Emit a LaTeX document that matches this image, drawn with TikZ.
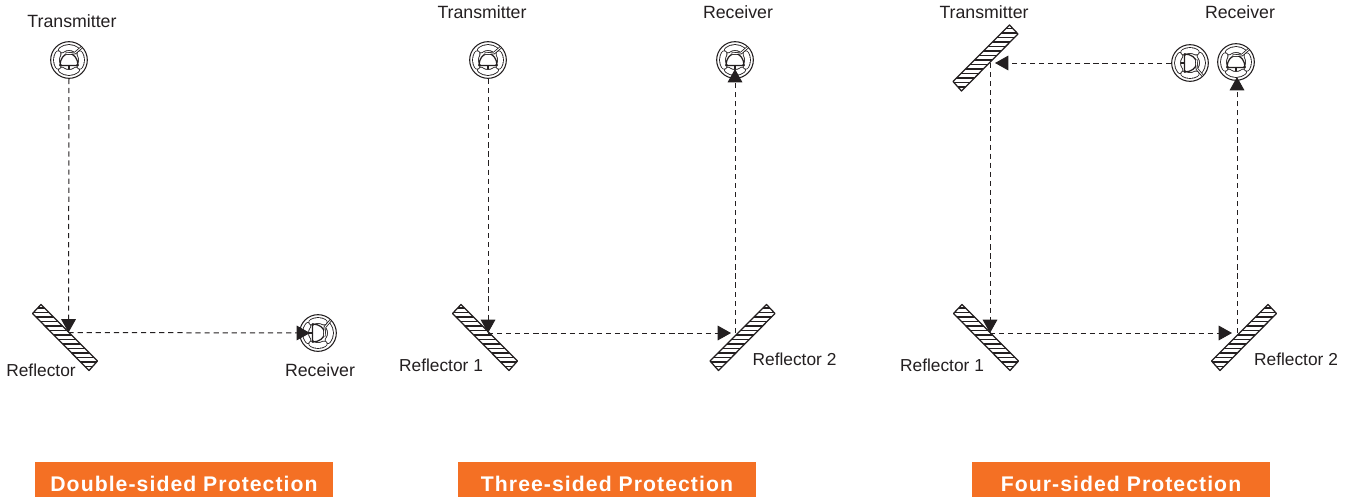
\documentclass[tikz,border=0pt]{standalone}
\usepackage{fontspec}
\setmainfont{Liberation Sans}
\usetikzlibrary{arrows.meta}
\definecolor{bannerorange}{HTML}{F47024}
\definecolor{inkc}{HTML}{231F20}
\tikzset{
  x=0.75pt,y=-0.75pt,
  beam/.style={draw=inkc,line width=0.75pt,dash pattern=on 3.9pt off 2.9pt},
  beamarrow/.style={beam,-{Triangle[length=10pt,width=11pt,color=inkc]}},
  sensorbody/.style={circle,draw=inkc,line width=0.8pt,minimum size=27.5pt,inner sep=0pt},
  lbl/.style={text=inkc,font=\fontsize{13.3}{15}\selectfont,inner sep=0pt},
  rlbl/.style={text=inkc,font=\fontsize{13}{15}\selectfont,inner sep=0pt},
  banner/.style={fill=bannerorange,minimum width=223.5pt,minimum height=26.25pt,inner sep=0pt,
    text=white,font=\fontsize{15.9}{18}\selectfont\bfseries\addfontfeature{LetterSpace=5}},
  pics/sensor/.style={code={
    \foreach \a/\b in {-128/-52,52/128,150/210,-30/30}{
      \draw[inkc,line width=5pt,line cap=round] (\a:12.5) arc[start angle=\a,end angle=\b,radius=12.5];
      \draw[white,line width=3.7pt,line cap=round] (\a:12.5) arc[start angle=\a,end angle=\b,radius=12.5];
    }
    \draw[inkc,line width=0.95pt] (-9,5.5) -- (9,5.5) arc[start angle=0,end angle=-180,x radius=9,y radius=12] -- cycle;
    \draw[inkc,line width=0.9pt] (0,5.5) -- (0,9);
    \draw[inkc,line width=1.9pt] (-3.5,-6.2) -- (6,-7) -- (12.5,-12.5);
    \draw[white,line width=0.7pt] (-3.5,-6.2) -- (6,-7) -- (12.5,-12.5);
    \fill[inkc] (-8.5,5) circle[radius=1.3] (8.5,5) circle[radius=1.3];
  }},
  pics/reflector/.style={code={
    \begin{scope}
      \clip (-24,-33) -- (32.5,23.5) -- (24,33) -- (-32.5,-24) -- cycle;
      \foreach \yy in {-34,-29.5,...,34}{
        \draw[inkc,line width=1pt] (-34,\yy) -- (34,\yy);
      }
    \end{scope}
    \draw[inkc,line width=0.95pt,line join=round] (-24,-33) -- (32.5,23.5) -- (24,33) -- (-32.5,-24) -- cycle;
  }},
}
\newcommand{\bannertext}[1]{\raisebox{-9.1pt}[0pt][0pt]{#1}}
\begin{document}
\begin{tikzpicture}
\useasboundingbox (0,0) rectangle (1352,497);

% ---------- Double-sided
\node[sensorbody] (ta) at (69,60) {};
\pic at (ta) {sensor};
\coordinate (refa) at (65,337.5);
\pic at (refa) {reflector};
\coordinate (hita) at (68.5,332.5);
\node[sensorbody] (ra) at (318,333) {};
\pic[rotate=-90,xscale=-1] at (ra) {sensor};
\coordinate (rain) at (310,333);
\draw[beamarrow] (ta.south) -- (hita);
\draw[beamarrow] (hita) -- (rain);
\node[lbl] (lta) at (72,21) {Transmitter};
\node[rlbl] (lra) at (41,370) {Reflector};
\node[lbl] (lrb) at (320,370) {Receiver};
\node[banner] (ba) at (184,479.5) {\bannertext{Double-sided Protection}};

% ---------- Three-sided
\node[sensorbody] (tb) at (488,60) {};
\pic at (tb) {sensor};
\node[sensorbody] (rb) at (735,60) {};
\pic at (rb) {sensor};
\coordinate (refb) at (485,337.5);
\pic at (refb) {reflector};
\coordinate (refc) at (742.5,337.5);
\pic[xscale=-1] at (refc) {reflector};
\coordinate (hitb) at (488,333);
\coordinate (hitc) at (731,333);
\coordinate (hitd) at (735,333);
\coordinate (rbin) at (735,69);
\draw[beamarrow] (tb.south) -- (hitb);
\draw[beamarrow] (hitb) -- (hitc);
\draw[beamarrow] (hitd) -- (rbin);
\node[lbl] (ltb) at (482,12) {Transmitter};
\node[lbl] (lrc) at (738,12) {Receiver};
\node[rlbl] (lrd) at (441,365) {Reflector 1};
\node[rlbl] (lre) at (794.5,359) {Reflector 2};
\node[banner] (bb) at (607,479.5) {\bannertext{Three-sided Protection}};

% ---------- Four-sided
\coordinate (refd) at (985.5,58);
\pic[xscale=-1] at (refd) {reflector};
\node[sensorbody] (tc) at (1190,63) {};
\pic[rotate=-90] at (tc) {sensor};
\node[sensorbody] (rc) at (1236,62) {};
\pic at (rc) {sensor};
\coordinate (refe) at (986,337.5);
\pic at (refe) {reflector};
\coordinate (reff) at (1244,337.5);
\pic[xscale=-1] at (reff) {reflector};
\coordinate (hite) at (995,63);
\coordinate (hitf) at (990,63);
\coordinate (hitg) at (990,333);
\coordinate (hith) at (1232,333);
\coordinate (hiti) at (1237,333);
\coordinate (rcin) at (1237,77);
\draw[beamarrow] (tc.west) -- (hite);
\draw[beamarrow] (hitf) -- (hitg);
\draw[beamarrow] (hitg) -- (hith);
\draw[beamarrow] (hiti) -- (rcin);
\node[lbl] (ltc) at (984,12) {Transmitter};
\node[lbl] (lrf) at (1240,12) {Receiver};
\node[rlbl] (lrg) at (942,365) {Reflector 1};
\node[rlbl] (lrh) at (1296,359) {Reflector 2};
\node[banner] (bc) at (1121,479.5) {\bannertext{Four-sided Protection}};
\end{tikzpicture}
\end{document}
